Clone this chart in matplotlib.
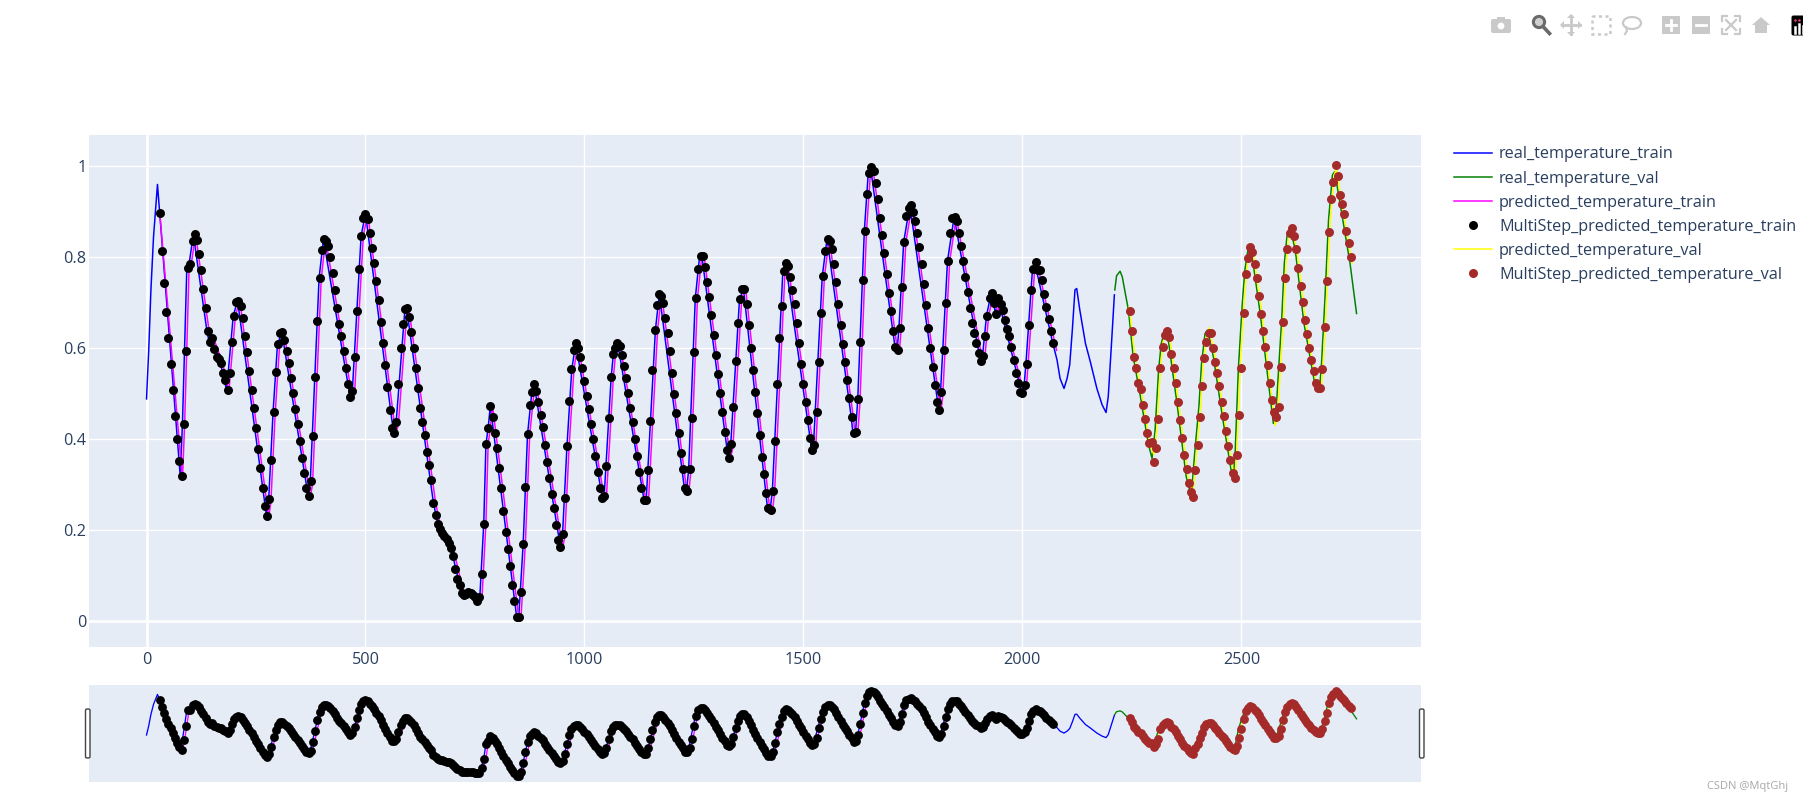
import matplotlib

matplotlib.use("Agg")
import matplotlib.pyplot as plt
import numpy as np
from matplotlib.patches import Circle, Ellipse, FancyBboxPatch, Polygon, Rectangle

plt.rcParams["font.family"] = ["Open Sans", "DejaVu Sans"]

W, H = 1803, 802
PX = 0.72  # points per pixel at dpi 100

TRAIN_START, VAL_START, STEP = 30, 2245, 5

real_train_x = [0, 5, 10, 16, 25, 77, 82, 92, 97, 107, 138, 143, 148, 169, 183, 198, 208, 274, 279, 289, 299, 309,
                369, 374, 394, 404, 465, 470, 490, 500, 564, 570, 590, 594, 655, 665, 695, 715, 720, 740, 755, 761,
                770, 775, 780, 785, 845, 850, 860, 870, 880, 885, 945, 950, 960, 971, 980, 1041, 1045, 1061, 1066,
                1076, 1136, 1141, 1162, 1171, 1228, 1233, 1238, 1253, 1263, 1268, 1328, 1334, 1354, 1363, 1418,
                1424, 1429, 1453, 1459, 1519, 1523, 1543, 1554, 1609, 1613, 1619, 1624, 1639, 1648, 1653, 1709,
                1714, 1718, 1729, 1743, 1809, 1813, 1829, 1844, 1904, 1909, 1918, 1929, 1939, 1944, 1999, 2004,
                2008, 2023, 2028, 2069, 2079, 2086, 2095, 2102, 2108, 2114, 2120, 2124, 2131, 2144, 2155, 2170,
                2182, 2191, 2196, 2203, 2210]
real_train_y = [.488, .595, .727, .845, .96, .318, .432, .776, .784, .850, .637, .613, .622, .566, .507, .671, .704,
                .230, .268, .460, .608, .635, .275, .307, .754, .839, .492, .506, .847, .896, .413, .437, .685,
                .687, .260, .213, .160, .079, .060, .060, .043, .051, .213, .388, .423, .473, .009, .009, .168,
                .410, .504, .520, .162, .191, .384, .553, .610, .269, .274, .536, .587, .610, .266, .266, .640,
                .719, .293, .285, .334, .709, .803, .803, .359, .388, .707, .730, .247, .244, .285, .770, .788,
                .375, .387, .758, .841, .449, .412, .415, .487, .857, .985, .999, .603, .596, .643, .834, .914,
                .464, .503, .792, .888, .572, .583, .671, .722, .674, .709, .500, .519, .565, .773, .789, .612,
                .574, .533, .511, .533, .563, .640, .728, .731, .684, .610, .570, .511, .475, .458, .493, .603,
                .717]

real_val_x = [2211, 2215, 2223, 2228, 2235, 2242, 2253, 2268, 2288, 2296, 2303, 2311, 2317, 2323, 2333, 2353, 2374,
              2384, 2386, 2394, 2403, 2409, 2417, 2423, 2436, 2458, 2479, 2482, 2486, 2493, 2502, 2508, 2516, 2524,
              2543, 2573, 2578, 2584, 2592, 2598, 2604, 2611, 2623, 2643, 2668, 2678, 2683, 2691, 2699, 2708, 2713,
              2724, 2748, 2763]
real_val_y = [.728, .759, .769, .757, .720, .684, .581, .501, .387, .357, .420, .552, .610, .631, .618, .478, .317,
              .280, .280, .376, .471, .566, .632, .639, .581, .441, .317, .317, .376, .552, .698, .772, .822, .805,
              .676, .434, .442, .537, .662, .786, .845, .867, .816, .654, .519, .504, .566, .713, .882, .981, .988,
              .926, .787, .676]

predicted_train_x = [30, 82, 87, 97, 102, 112, 143, 148, 153, 174, 188, 203, 213, 279, 284, 294, 304, 314, 374, 379,
                     399, 409, 470, 475, 495, 505, 569, 575, 595, 599, 660, 670, 700, 720, 725, 745, 760, 766, 775,
                     780, 785, 790, 850, 855, 865, 875, 885, 890, 950, 955, 965, 976, 985, 1046, 1050, 1066, 1071,
                     1081, 1141, 1146, 1167, 1176, 1233, 1238, 1243, 1258, 1268, 1273, 1333, 1339, 1359, 1368, 1423,
                     1429, 1434, 1458, 1464, 1524, 1528, 1548, 1559, 1614, 1618, 1624, 1629, 1644, 1653, 1658, 1714,
                     1719, 1723, 1734, 1748, 1814, 1818, 1834, 1849, 1909, 1914, 1923, 1934, 1944, 1949, 2004, 2009,
                     2013, 2028, 2033, 2078]
predicted_train_y = [.90, .312, .432, .770, .784, .850, .637, .613, .622, .566, .505, .671, .704, .228, .262, .460,
                     .608, .635, .272, .300, .754, .839, .490, .500, .847, .896, .411, .431, .685, .687, .260, .213,
                     .160, .079, .060, .060, .043, .050, .213, .388, .423, .473, .006, .006, .168, .410, .504, .520,
                     .160, .185, .384, .553, .610, .266, .270, .536, .587, .610, .260, .260, .640, .719, .290, .280,
                     .330, .709, .803, .803, .356, .382, .707, .730, .245, .240, .280, .770, .788, .372, .380, .758,
                     .841, .447, .408, .410, .480, .857, .985, .999, .600, .590, .640, .834, .914, .460, .495, .792,
                     .888, .570, .578, .671, .722, .674, .709, .497, .512, .565, .773, .789, .595]

# one marker every STEP from TRAIN_START
multistep_train_y = [
    .898, .813, .743, .679, .621, .565, .508, .451, .399, .351, .318, .432, .594, .776, .784, .835, .850, .838, .808,
    .771, .729, .687, .637, .613, .622, .597, .581, .575, .566, .544, .530, .507, .544, .614, .671, .701, .704, .693,
    .665, .627, .591, .550, .507, .467, .423, .378, .337, .293, .253, .230, .268, .354, .460, .547, .608, .634, .635,
    .617, .593, .567, .533, .500, .466, .432, .396, .357, .324, .291, .275, .307, .407, .536, .659, .754, .815, .839,
    .836, .824, .801, .765, .727, .689, .652, .626, .594, .557, .520, .492, .506, .581, .681, .775, .847, .886, .896,
    .883, .853, .821, .788, .747, .706, .658, .610, .563, .515, .464, .423, .413, .437, .521, .599, .653, .685, .687,
    .668, .636, .599, .555, .511, .469, .438, .408, .371, .343, .309, .260, .233, .213, .201, .193, .186, .179, .170,
    .160, .142, .114, .091, .079, .060, .057, .059, .062, .060, .056, .051, .043, .051, .102, .213, .388, .423, .473,
    .448, .414, .379, .337, .293, .242, .195, .158, .120, .079, .043, .009, .009, .064, .168, .295, .410, .474, .504,
    .520, .506, .481, .453, .426, .386, .350, .313, .278, .247, .211, .178, .162, .191, .269, .384, .484, .553, .596,
    .610, .599, .580, .555, .527, .495, .465, .433, .399, .362, .328, .291, .269, .274, .341, .445, .536, .587, .599,
    .610, .605, .585, .561, .533, .500, .469, .438, .399, .363, .328, .291, .266, .266, .332, .439, .552, .640, .695,
    .719, .715, .698, .665, .632, .593, .544, .499, .456, .412, .370, .334, .293, .285, .334, .445, .592, .709, .774,
    .803, .803, .778, .745, .712, .672, .628, .585, .542, .500, .459, .416, .376, .359, .388, .470, .572, .655, .707,
    .730, .730, .696, .651, .599, .552, .503, .456, .409, .361, .322, .282, .247, .244, .285, .396, .521, .621, .693,
    .770, .788, .781, .756, .727, .696, .654, .610, .565, .520, .481, .442, .401, .375, .387, .459, .569, .677, .758,
    .813, .841, .836, .818, .785, .746, .697, .650, .609, .569, .530, .489, .449, .412, .415, .487, .614, .749, .857,
    .938, .985, .999, .990, .964, .928, .887, .849, .809, .764, .722, .681, .637, .603, .596, .643, .734, .834, .890,
    .908, .914, .900, .879, .853, .822, .786, .740, .695, .644, .600, .558, .518, .481, .464, .503, .595, .698, .792,
    .853, .886, .888, .880, .854, .825, .792, .756, .723, .688, .656, .632, .610, .589, .572, .583, .627, .671, .709,
    .722, .698, .674, .709, .697, .683, .662, .642, .627, .603, .573, .546, .522, .504, .500, .519, .565, .651, .727,
    .773, .789, .772, .771, .749, .718, .690, .663, .638, .612]

predicted_val_x = [2244, 2257, 2272, 2292, 2300, 2307, 2315, 2321, 2327, 2337, 2357, 2378, 2388, 2390, 2398, 2407,
                   2413, 2421, 2427, 2440, 2462, 2483, 2486, 2490, 2497, 2506, 2512, 2520, 2528, 2547, 2577, 2582,
                   2588, 2596, 2602, 2608, 2615, 2627, 2647, 2672, 2682, 2687, 2695, 2703, 2712, 2717, 2728, 2753]
predicted_val_y = [.69, .581, .501, .387, .365, .420, .552, .610, .640, .618, .478, .317, .285, .285, .376, .471, .566,
                   .632, .645, .581, .441, .317, .317, .376, .552, .698, .772, .822, .805, .676, .430, .442, .537,
                   .662, .786, .845, .867, .816, .654, .519, .504, .566, .713, .882, .981, .995, .926, .787]

# one marker every STEP from VAL_START
multistep_val_y = [
    .682, .638, .581, .555, .522, .509, .474, .444, .414, .390, .394, .349, .379, .443, .557, .603, .629, .637, .624,
    .586, .555, .522, .481, .441, .401, .364, .333, .304, .283, .272, .332, .386, .448, .516, .577, .613, .632, .633,
    .599, .570, .544, .516, .481, .450, .418, .384, .353, .324, .313, .365, .452, .555, .676, .764, .799, .822, .812,
    .784, .754, .715, .675, .637, .602, .563, .522, .485, .459, .448, .471, .559, .657, .755, .817, .853, .864, .846,
    .818, .776, .737, .701, .661, .630, .601, .574, .549, .524, .511, .511, .554, .646, .748, .855, .927, .965, 1.002,
    .979, .937, .918, .896, .858, .831, .800]

x_ticks = [0, 500, 1000, 1500, 2000, 2500]
y_ticks = [0, 0.2, 0.4, 0.6, 0.8, 1]
y_tick_labels = ["0", "0.2", "0.4", "0.6", "0.8", "1"]
x_range = (-132.5, 2909)
y_range = (-0.058, 1.0695)

BG = "#e5ecf6"
TEXT = "#2a3f5f"


def draw_traces(ax, lw, ms):
    mx_train = TRAIN_START + STEP * np.arange(len(multistep_train_y))
    mx_val = VAL_START + STEP * np.arange(len(multistep_val_y))
    ax.plot(real_train_x, real_train_y, color="blue", lw=lw, label="real_temperature_train")
    ax.plot(real_val_x, real_val_y, color="green", lw=lw, label="real_temperature_val")
    ax.plot(predicted_train_x, predicted_train_y, color="magenta", lw=lw, label="predicted_temperature_train")
    ax.plot(mx_train, multistep_train_y, ls="none", marker="o", ms=ms, mew=0, color="black",
            label="MultiStep_predicted_temperature_train")
    ax.plot(predicted_val_x, predicted_val_y, color="yellow", lw=lw, label="predicted_temperature_val")
    ax.plot(mx_val, multistep_val_y, ls="none", marker="o", ms=ms, mew=0, color="brown",
            label="MultiStep_predicted_temperature_val")


def px_axes(fig, left, top, right, bottom):
    return fig.add_axes([left / W, 1 - bottom / H, (right - left) / W, (bottom - top) / H])


fig = plt.figure(figsize=(W / 100, H / 100), dpi=100)

# ---- main panel
ax = px_axes(fig, 88.5, 134.7, 1420.5, 647)
ax.set_facecolor(BG)
ax.set_axisbelow(True)
ax.grid(True, color="white", lw=1.4 * PX)
ax.axhline(0, color="white", lw=2.6 * PX, zorder=1)
ax.axvline(0, color="white", lw=2.6 * PX, zorder=1)
draw_traces(ax, 1.5 * PX, 9 * PX)
ax.set_xlim(*x_range)
ax.set_ylim(*y_range)
ax.set_xticks(x_ticks)
ax.set_yticks(y_ticks, y_tick_labels)
ax.tick_params(length=0, labelsize=11.7, labelcolor=TEXT)
ax.tick_params(axis="x", pad=3.5)
ax.tick_params(axis="y", pad=1.5)
for s in ax.spines.values():
    s.set_visible(False)

fig.legend(*ax.get_legend_handles_labels(), loc="upper left", bbox_to_anchor=(1454 / W, 1 - 146.5 / H),
           frameon=False, fontsize=11.7, labelcolor=TEXT, handlelength=2.34, handletextpad=0.43,
           labelspacing=0.5, borderpad=0, borderaxespad=0)

# ---- range slider
sl = px_axes(fig, 88.5, 685, 1420.5, 782)
sl.set_facecolor(BG)
draw_traces(sl, 1.3 * PX, 8.8 * PX)
sl.set_xlim(*x_range)
sl.set_ylim(*y_range)
sl.set_xticks([])
sl.set_yticks([])
for s in sl.spines.values():
    s.set_visible(False)

# ---- slider handles, modebar, watermark drawn in pixel coordinates
ov = fig.add_axes([0, 0, 1, 1], zorder=5)
ov.set_xlim(0, W)
ov.set_ylim(H, 0)
ov.axis("off")
ov.patch.set_alpha(0)
for hx in (85.5, 1419.5):
    ov.add_patch(FancyBboxPatch((hx, 709), 4.5, 49, boxstyle="round,pad=0,rounding_size=1.5",
                                fc="white", ec="#444444", lw=1.0))

GREY = "#c9c9c9"
# camera
ov.add_patch(FancyBboxPatch((1491, 19), 20, 14, boxstyle="round,pad=0,rounding_size=2", fc=GREY, ec="none"))
ov.add_patch(Rectangle((1497, 16.5), 8, 4, fc=GREY, ec="none"))
ov.add_patch(Circle((1501, 26), 3.4, fc="white", ec="none"))
# zoom
ov.add_patch(Circle((1539, 22), 5.6, fc="#d0d0d0", ec="#6a6a6a", lw=2.2))
ov.plot([1543.5, 1549.5], [27, 33.5], color="#6a6a6a", lw=2.6)
# pan
ov.plot([1562, 1580], [25, 25], color=GREY, lw=2)
ov.plot([1571, 1571], [16, 34], color=GREY, lw=2)
for tri in ([(1560, 25), (1564, 21), (1564, 29)], [(1582, 25), (1578, 21), (1578, 29)],
            [(1571, 14), (1567, 18), (1575, 18)], [(1571, 36), (1567, 32), (1575, 32)]):
    ov.add_patch(Polygon(tri, fc=GREY, ec="none"))
# box select
ov.add_patch(Rectangle((1592, 16), 18, 17.5, fc="none", ec=GREY, lw=1.8, ls=(0, (1.2, 1.4))))
# lasso
ov.add_patch(Ellipse((1632, 23), 18, 12, fc="none", ec=GREY, lw=1.6))
ov.plot([1626, 1627, 1625], [27, 31, 34], color=GREY, lw=1.6)
# zoom in / out
for sx in (1662, 1692):
    ov.add_patch(Rectangle((sx, 16), 18, 18, fc=GREY, ec="none"))
    ov.plot([sx + 4, sx + 14], [25, 25], color="white", lw=2)
ov.plot([1671, 1671], [20, 30], color="white", lw=2)
# autoscale
ov.plot([1722, 1722, 1727], [21, 16, 16], color=GREY, lw=1.6)
ov.plot([1735, 1740, 1740], [16, 16, 21], color=GREY, lw=1.6)
ov.plot([1722, 1722, 1727], [29, 34, 34], color=GREY, lw=1.6)
ov.plot([1735, 1740, 1740], [34, 34, 29], color=GREY, lw=1.6)
ov.plot([1726, 1736], [20, 30], color=GREY, lw=1.6)
ov.plot([1726, 1736], [30, 20], color=GREY, lw=1.6)
# home
ov.add_patch(Polygon([(1752, 25), (1761, 17), (1770, 25)], fc=GREY, ec="none"))
ov.add_patch(Rectangle((1755, 25), 12, 7.5, fc=GREY, ec="none"))
# logo
ov.add_patch(FancyBboxPatch((1791.5, 15.5), 14, 20, boxstyle="round,pad=0,rounding_size=2", fc="black", ec="none"))
ov.plot([1795, 1795], [27, 33], color="white", lw=1.8)
ov.plot([1799, 1799], [24, 33], color="white", lw=1.8)
ov.plot([1803, 1803], [26, 33], color="white", lw=1.8)
ov.plot([1795, 1799], [20, 20], ls="none", marker="o", ms=1.8, mew=0, color="#e8407a")

ov.text(1748, 786, "CSDN @MqtGhj", fontsize=8, color="#a8a8a8", ha="center", va="center")

fig.savefig("out.png", dpi=100)
